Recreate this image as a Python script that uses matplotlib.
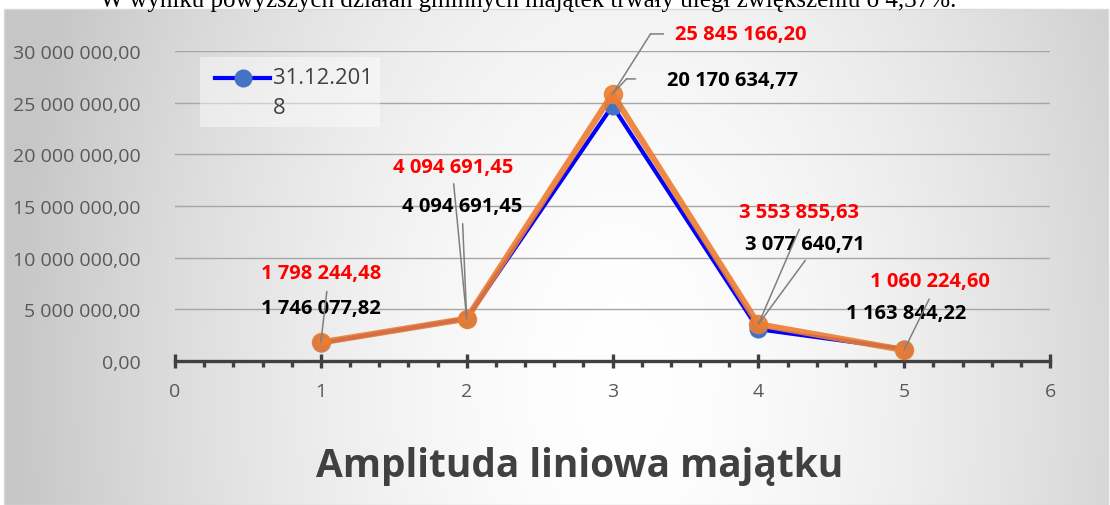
import numpy as np
import matplotlib.pyplot as plt
from matplotlib.ticker import FuncFormatter, MultipleLocator
from matplotlib.transforms import offset_copy
from matplotlib.patches import Rectangle
from matplotlib.lines import Line2D

plt.rcParams["font.family"] = ["Open Sans", "DejaVu Sans"]

# ── Data ────────────────────────────────────────────────────────────────
periods = [1, 2, 3, 4, 5]
series_2018 = [1746077.82, 4094691.45, 24700000.00, 3077640.71, 1163844.22]
labels_2018 = [1746077.82, 4094691.45, 20170634.77, 3077640.71, 1163844.22]
series_2019 = [1798244.48, 4094691.45, 25845166.20, 3553855.63, 1060224.60]
legend_label = ["31.12.201", "8"]
title = "Amplituda liniowa majątku"
caption = "W wyniku powyższych działań gminnych majątek trwały uległ zwiększeniu o 4,37%."

# ── Label placement (pixel offsets from the point) ──────────────────────
red_offsets = [(0, 69), (-13, 152), (128, 60), (41, 112), (26, 69)]
black_offsets = [(0, 34), (-4, 113), (120, 14), (47, 80), (2, 37)]
# leader polylines, each vertex an offset from the point
leaders = [
    [[(6, 51)]],
    [[(-13, 135)], [(-4, 95)]],
    [[(38, 60), (51, 60)], [(14, 15), (23, 15)]],
    [[(41, 95)], [(47, 64)]],
    [[(25, 51)]],
]

C_BLUE = "#0000FF"
C_BLUE_MK = "#4472C4"
C_ORANGE = "#ED7D31"
C_TEXT = "#404040"
C_TICK = "#595959"
C_LEADER = "#7f7f7f"

W, H = 1110, 506


def pl(v):
    return f"{v:,.2f}".replace(",", " ").replace(".", ",")


def fx(px):
    return px / W


def fy(py):
    return 1 - py / H


fig = plt.figure(figsize=(W / 100, H / 100), dpi=100)
fig.patch.set_facecolor("white")

# ── Background: radial grey gradient ────────────────────────────────────
bg = fig.add_axes([fx(4), 0, 1104 / W, 496 / H], zorder=-1)
gx, gy = np.meshgrid(np.linspace(0, 1, 552), np.linspace(0, 1, 248))
d = np.sqrt(((gx - 0.56) / 0.55) ** 2 + ((gy - 0.75) / 2.0) ** 2)
shade = 1 - 0.22 * np.clip(d, 0, 1) ** 1.6
bg.imshow(np.dstack([shade] * 3), aspect="auto", extent=(0, 1, 1, 0))
bg.set_xlim(0, 1)
bg.set_ylim(1, 0)
bg.axis("off")
fig.add_artist(Rectangle((fx(4), 0), 1104 / W, 496 / H, transform=fig.transFigure,
                         fill=False, edgecolor="#d9d9d9", linewidth=1))

# ── Main axes ───────────────────────────────────────────────────────────
ax = fig.add_axes([fx(175), fy(362), 875 / W, 310 / H])
ax.set_facecolor("none")
ax.set_xlim(0, 6)
ax.set_ylim(0, 30_000_000)

ax.plot(periods, series_2018, color=C_BLUE, lw=3, marker="o", markersize=12,
        markerfacecolor=C_BLUE_MK, markeredgecolor=C_BLUE_MK, zorder=3, clip_on=False)
ax.plot(periods, series_2019, color=C_ORANGE, lw=4.5, marker="o", markersize=13,
        alpha=0.9, zorder=4, clip_on=False)

for i, x in enumerate(periods):
    v = series_2019[i]
    ax.annotate(pl(labels_2018[i]), xy=(x, v), xytext=black_offsets[i],
                textcoords="offset pixels", ha="center", va="center",
                fontsize=14.5, fontweight="bold", color="black", zorder=5)
    for path in leaders[i]:
        prev = (0, 0)
        for dx, dy in path:
            src = offset_copy(ax.transData, fig=fig, x=prev[0], y=prev[1], units="dots")
            ax.annotate("", xy=(x, v), xycoords=src, xytext=(dx - prev[0], dy - prev[1]),
                        textcoords="offset pixels",
                        arrowprops=dict(arrowstyle="-", color=C_LEADER, lw=1.1,
                                        shrinkA=0, shrinkB=0), zorder=6)
            prev = (dx, dy)
    ax.annotate(pl(v), xy=(x, v), xytext=red_offsets[i], textcoords="offset pixels",
                ha="center", va="center", fontsize=14.5, fontweight="bold",
                color="#FF0000", zorder=7)

# ── Axes styling ────────────────────────────────────────────────────────
for s in ["top", "right", "left"]:
    ax.spines[s].set_visible(False)
ax.spines["bottom"].set_color(C_TEXT)
ax.spines["bottom"].set_linewidth(2.4)

ax.yaxis.set_major_locator(MultipleLocator(5_000_000))
ax.yaxis.set_major_formatter(FuncFormatter(lambda v, _: pl(v)))
ax.yaxis.grid(True, color="#a6a6a6", lw=1)
ax.set_axisbelow(True)
ax.tick_params(axis="y", length=0, pad=25, labelsize=14, labelcolor=C_TICK)

ax.xaxis.set_major_locator(MultipleLocator(1))
ax.xaxis.set_minor_locator(MultipleLocator(0.2))
ax.tick_params(axis="x", which="major", direction="inout", length=10, width=2.4,
               color=C_TEXT, pad=10, labelsize=14, labelcolor=C_TICK)
ax.tick_params(axis="x", which="minor", direction="out", length=4, width=2.4,
               color=C_TEXT)

# ── Legend (Excel-style, label wrapped) ─────────────────────────────────
fig.add_artist(Rectangle((fx(200), fy(128)), 180 / W, 70 / H, transform=fig.transFigure,
                         facecolor="white", alpha=0.45, edgecolor="none"))
fig.add_artist(Line2D([fx(215), fx(270)], [fy(79), fy(79)], transform=fig.transFigure,
                      color=C_BLUE, lw=3))
fig.add_artist(Line2D([fx(243)], [fy(79)], transform=fig.transFigure, marker="o",
                      markersize=12, color=C_BLUE_MK, lw=0))
for k, line in enumerate(legend_label):
    fig.text(fx(273), fy(79 + 29 * k), line, ha="left", va="center", fontsize=15.8,
             color=C_TEXT)

fig.text(fx(580), fy(477), title, ha="center", va="baseline", fontsize=28,
         fontweight="bold", color=C_TEXT)
fig.text(fx(100), fy(7), caption, ha="left", va="baseline", fontsize=18,
         family=["Liberation Serif", "DejaVu Serif"], color="black")

fig.savefig("out.png", dpi=100)
